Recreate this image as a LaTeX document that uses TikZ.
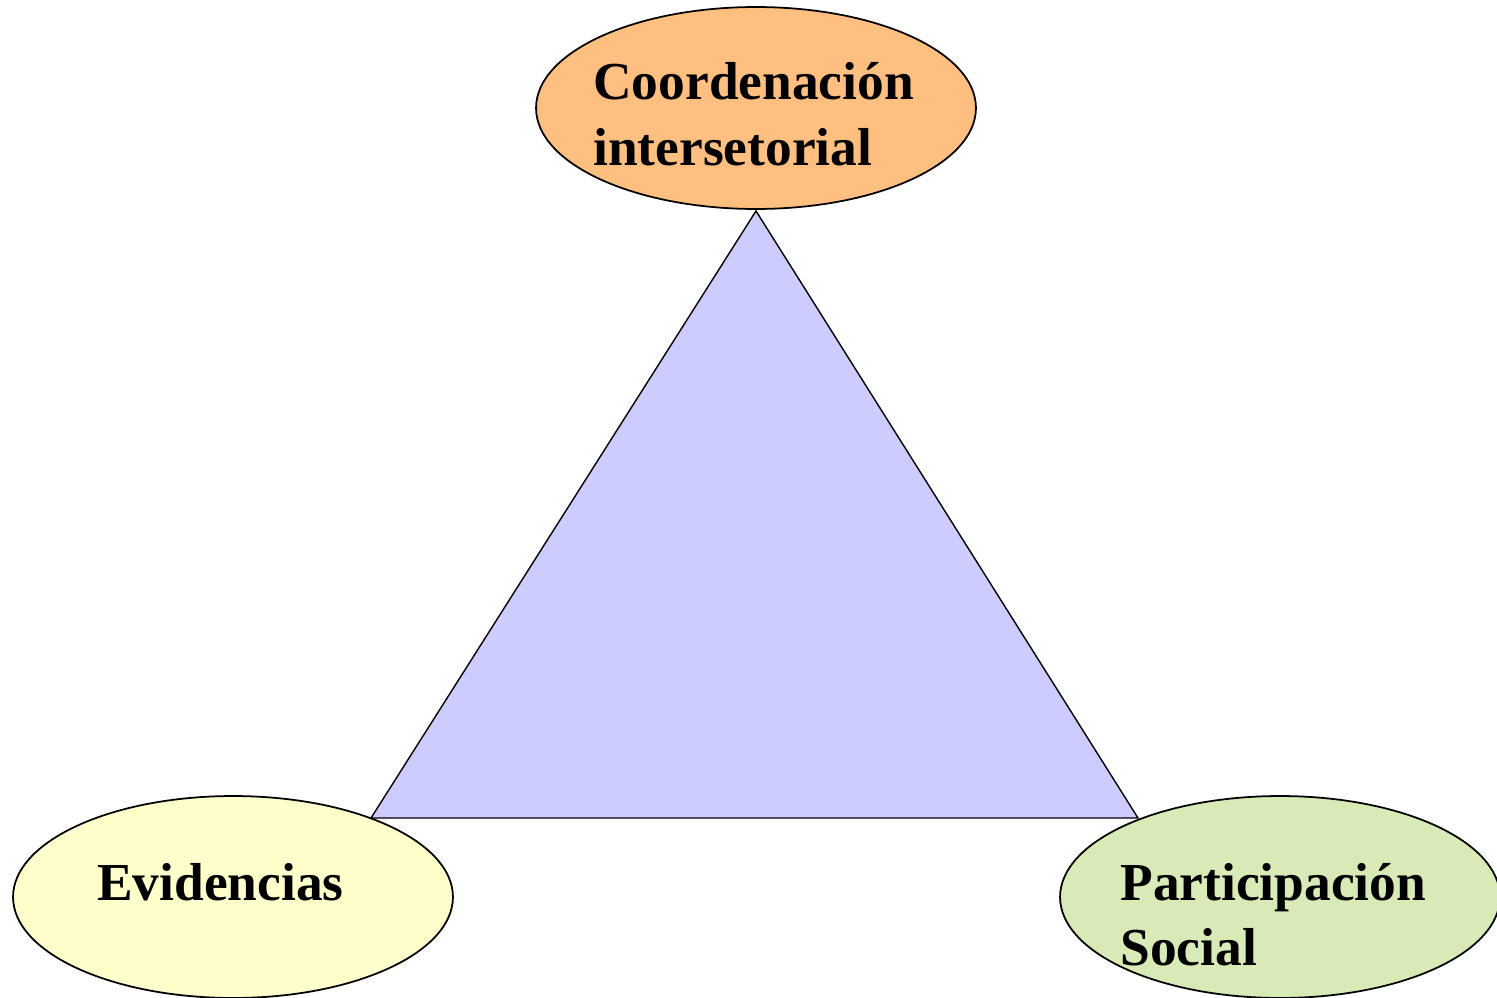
\documentclass[tikz,border=0pt]{standalone}
\usepackage{fontspec}
\setmainfont{Liberation Serif}
\usetikzlibrary{calc,shapes.geometric}
\definecolor{naranja}{RGB}{255,191,128}
\definecolor{amarillo}{RGB}{255,255,204}
\definecolor{verde}{RGB}{216,234,182}
\definecolor{lila}{RGB}{204,204,255}
\tikzset{vertice/.style={ellipse, draw=black, line width=1pt,
           minimum width=8.8cm, minimum height=4.04cm, inner sep=0pt},
     rotulo/.style={anchor=base west, align=left, inner sep=0pt,
           font=\fontsize{30.4}{37}\selectfont\bfseries},
     triangulo/.style={draw=black, fill=lila, line width=0.8pt}
     }
\def\Vertice#1#2#3#4#5{%
 \node (#1) [vertice, fill=#3] at (#2) {};
 \node (#1-txt) [rotulo] at ($(#1)+(#4)$) {#5};
}

\begin{document}
\begin{tikzpicture}[x=0.02cm, y=-0.02cm]
\useasboundingbox (0,0) rectangle (1497,997);
\coordinate (apice) at (756,211);
\coordinate (izq) at (371,818);
\coordinate (der) at (1138,818);
\filldraw[triangulo] (apice) -- (izq) -- (der) -- cycle;
% base = baseline of the last line
\Vertice{coord}{756,108}{naranja}{-163,57}{Coordenación\\intersetorial}
\Vertice{evid}{233,897}{amarillo}{-136,3}{Evidencias}
\Vertice{part}{1280,897}{verde}{-160,68}{Participación\\Social}
\end{tikzpicture}
\end{document}
